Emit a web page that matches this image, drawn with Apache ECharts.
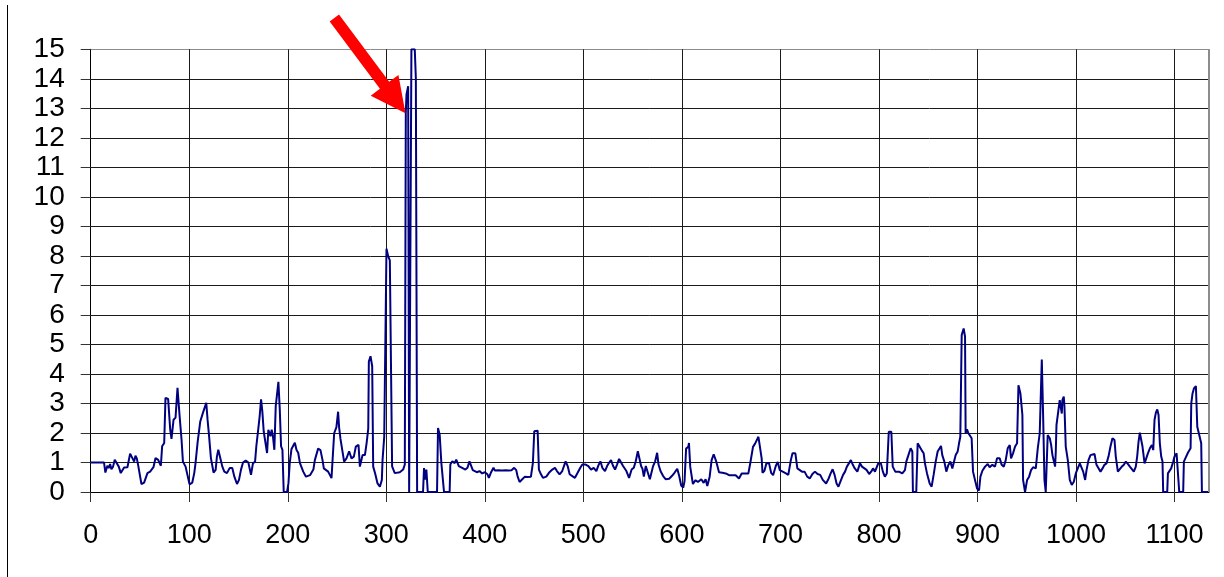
<!DOCTYPE html>
<html>
<head>
<meta charset="utf-8">
<script src="https://cdn.jsdelivr.net/npm/echarts@6/dist/echarts.min.js"></script>
<style>
html,body{margin:0;padding:0;background:#fff;}
#chart{width:1224px;height:577px;}
</style>
</head>
<body>
<div id="chart"></div>
<script>
// x positions (sample index) of read points
const xs = [
0,13.5,14.9,16.9,18.3,19.7,21.0,22.7,24.4,26.4,28.5,30.5,32.5,33.9,37.3,39.3,40.0,42.0,44.1,45.4,46.8,48.1,49.5,51.5,54.2,57.6,60.3,63.7,65.8,68.5,71.2,72.5,74.6,75.9,78.6,80.7,82.0,84.1,86.1,88.1,90.2,92.2,93.6,96.3,
100.3,103.1,105.1,106.4,108.5,111.2,113.9,115.9,117.3,118.6,120.0,122.0,124.7,126.8,128.1,129.5,131.5,133.6,135.6,138.3,141.0,143.7,145.8,148.5,150.5,152.5,154.6,157.3,160.0,162.7,164.7,166.8,168.1,170.2,171.5,172.9,174.2,175.6,176.9,179.0,180.3,182.4,183.7,185.1,186.4,187.8,189.2,190.5,191.9,193.2,194.6,195.9,199.3,
200.7,202.0,203.8,205.8,207.2,208.9,210.6,212.3,215.7,218.5,222.6,226.0,227.5,230.8,233.2,235.3,236.6,241.0,244.4,246.1,247.1,249.4,251.1,252.1,253.5,255.5,257.2,259.6,262.3,264.7,267.1,269.1,271.8,273.2,275.9,278.3,280.0,281.7,282.3,284.0,285.7,286.7,288.7,291.1,293.5,295.5,296.2,297.9,298.9,
300.2,301.9,303.6,305.3,305.9,308.6,313.7,317.1,318.8,319.8,320.5,322.2,323.2,324.5,325.5,328.9,330.0,331.3,337.3,338.3,339.7,340.7,341.7,342.1,351.5,352.5,354.2,355.9,357.6,358.6,364.3,365.0,367.0,369.4,371.0,373.6,377.0,380.3,382.4,384.4,385.8,387.8,389.8,391.9,394.6,397.3,
400.0,402.7,404.1,406.1,408.8,410.2,413.6,417.6,421.0,424.4,427.1,429.8,431.9,433.2,435.3,438.0,440.7,443.4,446.8,448.8,450.2,453.6,454.9,457.0,459.0,462.4,465.1,468.5,471.2,473.2,475.9,478.6,482.0,484.1,486.1,488.8,491.5,494.2,496.9,499.0,
502.4,505.1,507.8,510.5,513.2,515.3,517.3,519.3,522.0,524.1,526.1,528.1,530.2,532.2,534.2,536.3,538.3,540.3,543.7,546.4,549.0,551.2,553.2,555.3,557.3,558.6,560.0,561.4,563.4,565.4,567.5,568.8,570.8,572.9,574.9,576.3,578.3,581.0,583.7,587.1,589.8,592.5,595.3,597.3,599.3,
601.4,602.7,604.3,606.5,607.2,608.5,611.2,613.9,616.3,619.7,622.1,624.1,625.8,628.2,630.2,632.3,635.0,637.7,641.1,644.5,647.9,651.2,654.6,658.0,660.7,663.8,667.5,669.5,672.2,674.3,676.3,677.7,679.0,681.0,681.8,683.8,685.8,688.5,690.6,692.6,695.3,697.3,699.4,
702.3,705.6,708.0,710.6,712.3,715.2,717.2,719.2,721.9,724.5,727.2,729.8,732.5,735.1,737.7,740.4,743.0,746.4,749.0,751.0,753.0,755.0,757.0,758.9,760.9,763.6,765.6,767.5,769.5,771.5,773.5,775.5,778.1,780.8,782.8,784.8,787.4,790.1,792.1,794.0,796.0,798.0,799.3,
802.0,804.0,806.0,808.0,810.0,812.6,814.0,816.6,820.3,823.7,826.4,827.8,830.5,832.2,833.9,834.5,837.9,839.3,841.3,843.3,845.4,846.7,848.8,851.5,853.5,855.5,857.6,859.6,861.6,863.0,864.3,866.4,868.4,870.4,872.5,874.5,876.5,877.9,879.9,881.3,882.6,884.0,886.0,887.4,888.0,889.4,890.8,892.1,894.1,895.5,897.5,899.6,
901.6,903.0,905.0,907.7,910.4,912.4,915.1,917.8,919.9,922.6,924.6,926.7,928.7,930.7,932.8,934.1,936.1,938.2,940.2,941.6,943.6,945.6,946.3,948.3,950.4,952.4,954.4,956.5,959.2,961.2,963.2,965.3,966.6,968.0,969.3,970.7,971.3,973.4,974.8,976.1,977.5,978.8,979.5,980.2,982.2,983.5,984.9,985.6,986.2,987.6,988.3,989.6,991.7,993.7,995.7,997.8,999.8,
1001.8,1003.9,1005.9,1007.3,1009.3,1010.7,1012.7,1014.7,1016.7,1018.8,1020.8,1022.8,1024.9,1026.9,1028.9,1031.0,1033.0,1035.0,1037.0,1039.1,1040.4,1042.5,1044.5,1046.5,1048.6,1050.6,1052.6,1054.7,1056.7,1058.7,1060.7,1062.1,1063.5,1064.8,1066.2,1067.5,1069.6,1071.6,1073.0,1075.0,1077.0,1078.4,1079.7,1081.1,1082.5,1083.8,1085.1,1086.5,1087.8,1088.5,1092.6,1093.3,1094.6,1096.6,1098.7,
1100.0,1102.1,1104.1,1104.8,1108.8,1109.5,1111.5,1113.6,1116.3,1117.0,1118.3,1119.7,1121.7,1123.1,1125.1,1127.1,1127.8,1134.2
];
// values
const ys = [
1,1,0.66,0.89,0.81,0.95,0.77,0.86,1.09,1.03,0.86,0.64,0.69,0.83,0.84,0.84,1.30,1.26,1.03,1.23,1.14,0.92,0.95,0.27,0.32,0.64,0.69,0.84,1.15,1.09,0.89,1.55,1.66,3.19,3.15,2.11,1.80,2.45,2.52,3.53,2.59,1.77,1.03,0.86,
0.26,0.32,0.64,0.98,1.68,2.39,2.68,2.74,3.02,2.45,1.95,1.15,0.66,0.75,1.20,1.43,1.15,0.86,0.69,0.64,0.81,0.81,0.52,0.27,0.41,0.75,1.00,1.07,1.00,0.58,0.98,1.02,1.55,2.17,2.57,3.14,2.73,2.05,1.77,1.32,2.11,1.89,2.11,1.84,1.43,2.91,2.97,3.73,2.80,1.55,1.43,0,0,
0.30,0.98,1.46,1.50,1.67,1.42,1.33,0.99,0.69,0.52,0.57,0.76,1.08,1.47,1.42,1.08,0.80,0.69,0.47,0.41,1.99,2.20,2.72,2.20,1.80,1.74,1.03,1.14,1.38,1.14,1.20,1.54,1.60,0.86,1.25,1.25,1.65,2.15,4.42,4.60,4.26,0.86,0.63,0.29,0.18,0.41,1.08,1.87,1.93,
8.24,7.99,7.85,7.82,0.87,0.64,0.67,0.76,0.93,12.85,13.47,13.75,0,0,15,15,14.03,0,0,0.81,0.42,0.76,0.81,0,0,2.17,1.94,0.98,0.36,0,0,0.93,1.04,0.98,1.10,0.88,0.82,0.76,0.82,1.04,0.99,0.74,0.79,0.67,0.71,0.63,
0.67,0.60,0.48,0.65,0.82,0.73,0.74,0.73,0.74,0.73,0.74,0.82,0.74,0.54,0.34,0.43,0.52,0.51,0.52,0.99,2.06,2.08,0.76,0.60,0.48,0.52,0.65,0.76,0.82,0.71,0.60,0.71,1.04,0.88,0.60,0.54,0.48,0.65,0.82,0.93,
0.93,0.88,0.76,0.82,0.71,0.90,1.04,0.82,0.71,0.88,0.99,1.08,0.88,0.76,0.93,1.12,1.12,0.88,0.71,0.48,0.76,0.82,1.04,1.38,1.36,0.88,0.79,0.52,0.88,0.82,0.43,0.48,0.88,1.04,1.33,0.93,0.71,0.54,0.43,0.45,0.54,0.65,0.79,0.54,0.22,
0.15,0.37,1.47,1.53,1.66,0.85,0.27,0.40,0.34,0.43,0.31,0.43,0.20,0.52,1.08,1.28,1.02,0.67,0.65,0.63,0.57,0.57,0.57,0.46,0.63,0.63,0.63,0.99,1.53,1.64,1.70,1.87,1.58,1.13,0.65,0.72,0.97,0.97,0.65,0.57,0.88,1.02,0.74,
0.69,0.63,0.58,1.08,1.31,1.31,0.80,0.86,0.69,0.69,0.52,0.46,0.61,0.69,0.61,0.58,0.41,0.29,0.46,0.63,0.77,0.58,0.29,0.18,0.35,0.58,0.69,0.86,0.92,1.08,0.92,0.80,0.69,0.97,0.86,0.80,0.75,0.61,0.69,0.80,0.69,0.75,0.97,
0.97,0.69,0.52,0.63,2.04,2.04,0.86,0.69,0.69,0.63,0.74,1.03,1.31,1.48,1.37,0,0,1.65,1.71,1.42,1.31,0.97,0.63,0.29,0.18,0.58,1.03,1.37,1.48,1.56,1.25,1.03,0.69,0.91,1.03,0.80,0.86,1.25,1.37,1.65,1.87,5.32,5.54,5.26,1.99,2.12,1.99,2.04,1.82,0.69,0.41,0.12,
0.05,0.52,0.72,0.86,0.95,0.84,0.92,0.86,1.14,1.14,0.92,0.86,1.08,1.48,1.59,1.14,1.31,1.54,1.65,3.62,3.34,2.61,0.41,0,0.41,0.52,0.74,0.84,0.80,1.48,1.99,4.49,2.66,0.41,0,0,1.93,1.82,1.59,1.25,1.25,0.86,1.37,2.27,2.27,3.11,3.17,2.66,3.11,3.23,2.89,1.54,1.08,0.41,0.24,0.35,0.63,
0.80,0.97,1.03,0.69,0.41,0.74,1.08,1.25,1.20,1.29,0.92,0.86,0.69,0.80,0.92,0.97,1.20,1.54,1.82,1.76,1.20,0.69,0.63,0.86,0.92,1.03,0.95,0.86,0.80,0.69,0.86,1.20,1.71,2.01,1.76,1.54,0.97,0.97,1.31,1.48,1.59,1.42,2.44,2.69,2.80,2.61,1.65,1.20,1.03,0,0,0.63,0.69,0.80,1.03,
1.20,1.31,1.29,0,0,1.03,1.08,1.33,1.48,3.00,3.34,3.51,3.59,2.21,1.93,1.65,0,0
];
const xTickStep = 100;
const yTicks = [0,1,2,3,4,5,6,7,8,9,10,11,12,13,14,15];
const arrowTip = [319.5, 12.83]; // where the red arrow points

const data = xs.map((x, i) => [x, ys[i]]);
const FONT = '"Liberation Sans", Arial, sans-serif';

const chart = echarts.init(document.getElementById('chart'), null, {renderer: 'canvas'});
const ySplitColors = yTicks.map((v, i) => i === yTicks.length - 1 ? '#8c8c8c' : '#1a1a1a');
const xSplitColors = [];
for (let i = 0; i <= 12; i++) xSplitColors.push(i === 12 ? '#8c8c8c' : '#1a1a1a');

chart.setOption({
  animation: false,
  backgroundColor: '#ffffff',
  grid: {left: 90.7, right: 15, top: 49.3, bottom: 85, show: false},
  xAxis: {
    type: 'value', min: 0, max: 1135, interval: xTickStep,
    axisLine: {show: true, lineStyle: {color: '#000', width: 1}},
    axisTick: {show: true, length: 10, lineStyle: {color: '#333', width: 1}},
    axisLabel: {
      color: '#000', fontFamily: FONT, fontSize: 27, margin: 30,
      showMaxLabel: false,
      formatter: v => (v % 100 === 0 ? String(v) : '')
    },
    splitLine: {show: true, lineStyle: {color: xSplitColors, width: 1}}
  },
  yAxis: {
    type: 'value', min: 0, max: 15, interval: 1,
    axisLine: {show: true, lineStyle: {color: '#000', width: 1}},
    axisTick: {show: true, length: 10, lineStyle: {color: '#333', width: 1}},
    axisLabel: {color: '#000', fontFamily: FONT, fontSize: 28, margin: 26},
    splitLine: {show: true, lineStyle: {color: ySplitColors, width: 1}}
  },
  series: [{
    type: 'line', data: data, showSymbol: false, symbol: 'none',
    clip: true,
    lineStyle: {color: '#000080', width: 2},
    z: 5
  }]
});

// right border of the plot area (grey), and left page rule, and red arrow
const tip = chart.convertToPixel({gridIndex: 0}, arrowTip);
const ux = 0.598, uy = 0.801;   // arrow direction
const nx = 0.801, ny = -0.598;  // perpendicular
const L = 119, headL = 35, headW = 17.3, shaftW = 5.8;
const bx = tip[0] - headL * ux, by = tip[1] - headL * uy;
const sx = tip[0] - L * ux, sy = tip[1] - L * uy;
const pts = [
  [sx + shaftW * nx, sy + shaftW * ny],
  [bx + shaftW * nx, by + shaftW * ny],
  [bx + headW * nx, by + headW * ny],
  [tip[0], tip[1]],
  [bx - headW * nx, by - headW * ny],
  [bx - shaftW * nx, by - shaftW * ny],
  [sx - shaftW * nx, sy - shaftW * ny]
];
const gr = chart.convertToPixel({gridIndex: 0}, [1135, 15]);
const g0 = chart.convertToPixel({gridIndex: 0}, [1135, 0]);
chart.setOption({
  graphic: [
    {type: 'line', shape: {x1: 7.5, y1: 5, x2: 7.5, y2: 577}, style: {stroke: '#000', lineWidth: 1}, z: 100},
    {type: 'line', shape: {x1: gr[0], y1: gr[1], x2: g0[0], y2: g0[1]}, style: {stroke: '#8c8c8c', lineWidth: 2}, z: 100},
    {type: 'polygon', shape: {points: pts}, style: {fill: '#ff0000'}, z: 110}
  ]
});
</script>
</body>
</html>
